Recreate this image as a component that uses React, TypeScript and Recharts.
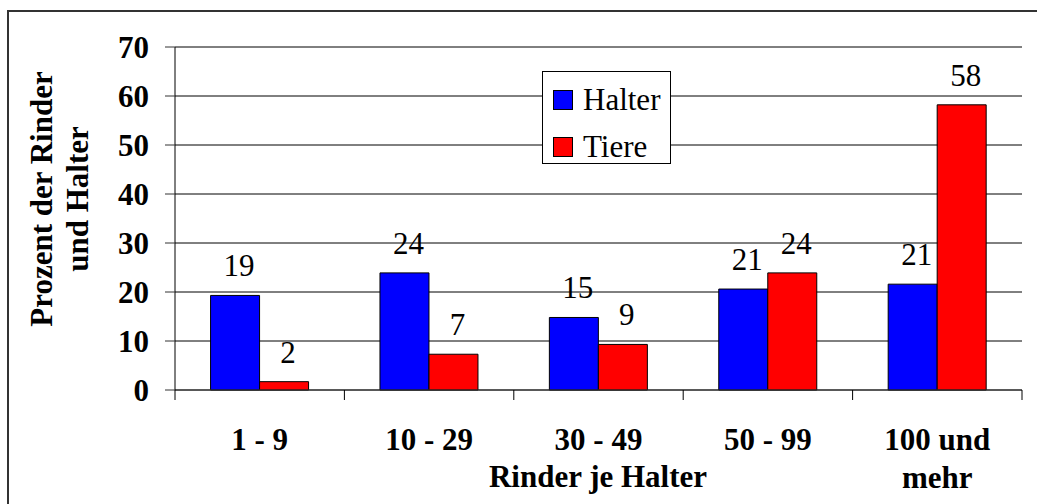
import { BarChart, Bar, XAxis, YAxis, CartesianGrid, Legend, LabelList } from 'recharts'

const categories = ['1 - 9', '10 - 29', '30 - 49', '50 - 99', '100 und\nmehr']
const halter = [19.3, 23.9, 14.8, 20.6, 21.6]
const tiere = [1.7, 7.3, 9.3, 23.9, 58.2]
const halterLabels = [19, 24, 15, 21, 21]
const tiereLabels = [2, 7, 9, 24, 58]
const yTicks = [0, 10, 20, 30, 40, 50, 60, 70]

const data = categories.map((cat, i) => ({
  cat,
  halter: halter[i],
  tiere: tiere[i],
  halterLabel: halterLabels[i],
  tiereLabel: tiereLabels[i],
}))

const FONT = "'Liberation Serif', 'Times New Roman', serif"
const W = 1037
const H = 504
const X_H = 114
const M = { top: 47, right: 15, bottom: 0, left: 25 }
const Y_W = 150
const BAND = (W - M.left - Y_W - M.right) / categories.length

function CatTick(props: any) {
  const { x, y, payload, index } = props
  const lines = String(payload.value).split('\n')
  return (
    <g>
      <line x1={x - BAND / 2} y1={y} x2={x - BAND / 2} y2={y + 10} stroke="#000" />
      {index === categories.length - 1 && (
        <line x1={x + BAND / 2} y1={y} x2={x + BAND / 2} y2={y + 10} stroke="#000" />
      )}
      <text x={x} y={y + 60} textAnchor="middle" fontFamily={FONT} fontSize={31} fontWeight="bold" fill="#000">
        {lines.map((l, i) => (
          <tspan key={i} x={x} dy={i === 0 ? 0 : 38}>{l}</tspan>
        ))}
      </text>
    </g>
  )
}

function ValueLabel(props: any) {
  const { x, y, width, value } = props
  return (
    <text x={x + width / 2 + 4} y={y - 19} textAnchor="middle" fontFamily={FONT} fontSize={31} fill="#000">
      {value}
    </text>
  )
}

function LegendBox(props: any) {
  const items = props.payload || []
  return (
    <div style={{
      width: 129, height: 93, boxSizing: 'border-box', border: '1px solid #000', background: '#fff',
      paddingTop: 11, paddingLeft: 10, fontFamily: FONT, fontSize: 31, color: '#000',
    }}>
      {items.map((it: any) => (
        <div key={it.value} style={{ display: 'flex', alignItems: 'center', height: 33, marginBottom: 14 }}>
          <span style={{ width: 20, height: 20, boxSizing: 'border-box', border: '1.5px solid #000', background: it.color, marginRight: 10 }} />
          <span style={{ lineHeight: '33px' }}>{it.value}</span>
        </div>
      ))}
    </div>
  )
}

export default function App() {
  return (
    <div style={{ position: 'absolute', left: 0, top: 0, width: W, height: H, background: '#fff', overflow: 'hidden' }}>
      <div style={{ position: 'absolute', left: 7, top: 10, width: W, height: H, borderLeft: '2px solid #333', borderTop: '2px solid #333' }} />
      <BarChart width={W} height={H} data={data} margin={M} barCategoryGap="21%" barGap={0}>
        <CartesianGrid vertical={false} stroke="#000" />
        <XAxis
          dataKey="cat"
          tick={<CatTick />}
          tickLine={false}
          tickSize={0}
          tickMargin={0}
          interval={0}
          height={X_H}
          axisLine={{ stroke: '#333' }}
          label={{
            content: () => (
              <text x={598} y={487} textAnchor="middle" fontFamily={FONT} fontSize={31} fontWeight="bold" fill="#000">
                Rinder je Halter
              </text>
            ),
          }}
        />
        <YAxis
          domain={[0, 70]}
          ticks={yTicks}
          interval={0}
          width={Y_W}
          tickSize={10}
          tickMargin={16}
          tickLine={{ stroke: '#333' }}
          axisLine={{ stroke: '#000' }}
          tick={{ fontSize: 31, fontWeight: 'bold', fill: '#000', fontFamily: FONT }}
          label={{
            content: () => (
              <g fontFamily={FONT} fontSize={31} fontWeight="bold" fill="#000">
                <text x={52} y={199} textAnchor="middle" transform="rotate(-90, 52, 199)">Prozent der Rinder</text>
                <text x={88} y={199} textAnchor="middle" transform="rotate(-90, 88, 199)">und Halter</text>
              </g>
            ),
          }}
        />
        <YAxis yAxisId="right" orientation="right" width={0} tick={false} tickLine={false} axisLine={{ stroke: '#000' }} />
        <Legend
          verticalAlign="middle"
          layout="horizontal"
          content={<LegendBox />}
          wrapperStyle={{ position: 'absolute', left: 542, top: 71, width: 129, height: 93 }}
        />
        <Bar dataKey="halter" name="Halter" fill="#0000ff" stroke="#000" strokeWidth={1} isAnimationActive={false}>
          <LabelList dataKey="halterLabel" content={<ValueLabel />} />
        </Bar>
        <Bar dataKey="tiere" name="Tiere" fill="#ff0000" stroke="#000" strokeWidth={1} isAnimationActive={false}>
          <LabelList dataKey="tiereLabel" content={<ValueLabel />} />
        </Bar>
      </BarChart>
    </div>
  )
}
